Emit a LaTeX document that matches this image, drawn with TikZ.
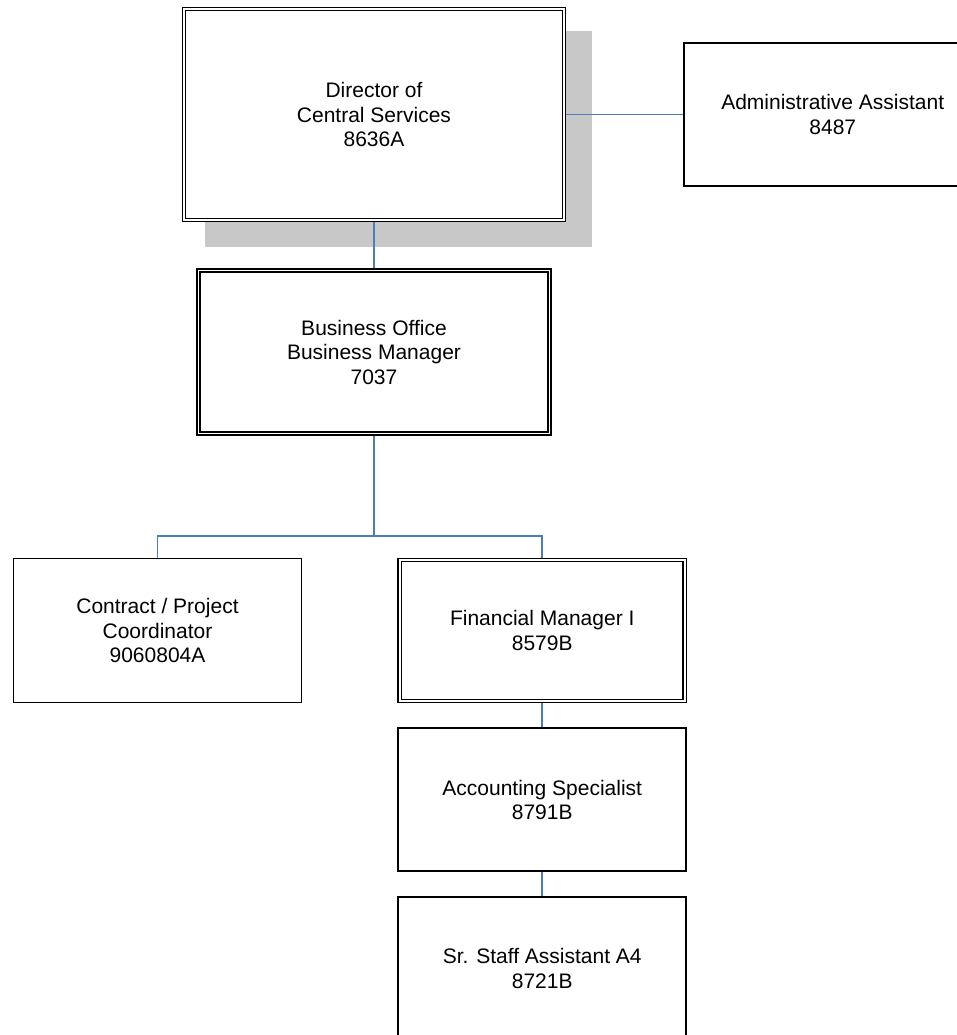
\documentclass[tikz,border=0pt]{standalone}
\usepackage{fontspec}
\setmainfont{Liberation Sans}
\usetikzlibrary{positioning,shadows}
\definecolor{linkblue}{HTML}{4A7EBB}
\definecolor{shadegray}{HTML}{C8C8C8}

\begin{document}
\begin{tikzpicture}[x=1pt,y=-1pt,node distance=24pt,
    post/.style={draw,rectangle,line width=1.9pt,fill=white,align=center,
        inner sep=0pt,outer sep=0.95pt,font=\fontsize{21}{24.5}\selectfont},
    chief/.style={post,double,line width=1.5pt,double distance=1.6pt,outer sep=2.3pt},
    link/.style={draw=linkblue,line width=1.9pt}]
    \useasboundingbox (0,0) rectangle (957,1035);

    \node[chief, minimum width=380pt, minimum height=211pt,
        drop shadow={shadow xshift=24pt,shadow yshift=-24pt,shadow scale=1.02,
            draw=none,fill=shadegray,opacity=1}]
        (dir) at (374,114.5) {Director of\\Central Services\\8636A};
    \node[post, minimum width=297pt, minimum height=143pt] (admin) [right=117pt of dir]
        {Administrative Assistant\\8487};
    \node[chief, minimum width=351pt, minimum height=163pt] (bus) [below=46pt of dir]
        {Business Office\\Business Manager\\7037};

    \node[post, minimum width=288pt, minimum height=144pt] (contract) at (157.5,630.5)
        {Contract / Project\\Coordinator\\9060804A};
    \node[chief, minimum width=285pt, minimum height=141pt] (fin) [right=95pt of contract]
        {Financial Manager I\\8579B};
    \node[post, minimum width=288pt, minimum height=143pt] (acc) [below=of fin]
        {Accounting Specialist\\8791B};
    \node[post, minimum width=288pt, minimum height=143pt] (sr) [below=of acc]
        {Sr. Staff Assistant A4\\8721B};

    \coordinate[below=100pt of bus] (branch);

    \draw[link] (dir) -- (admin);
    \draw[link] (dir) -- (bus);
    \draw[link] (bus) -- (branch);
    \draw[link] (contract) |- (branch) -| (fin);
    \draw[link] (fin) -- (acc);
    \draw[link] (acc) -- (sr);
\end{tikzpicture}
\end{document}
